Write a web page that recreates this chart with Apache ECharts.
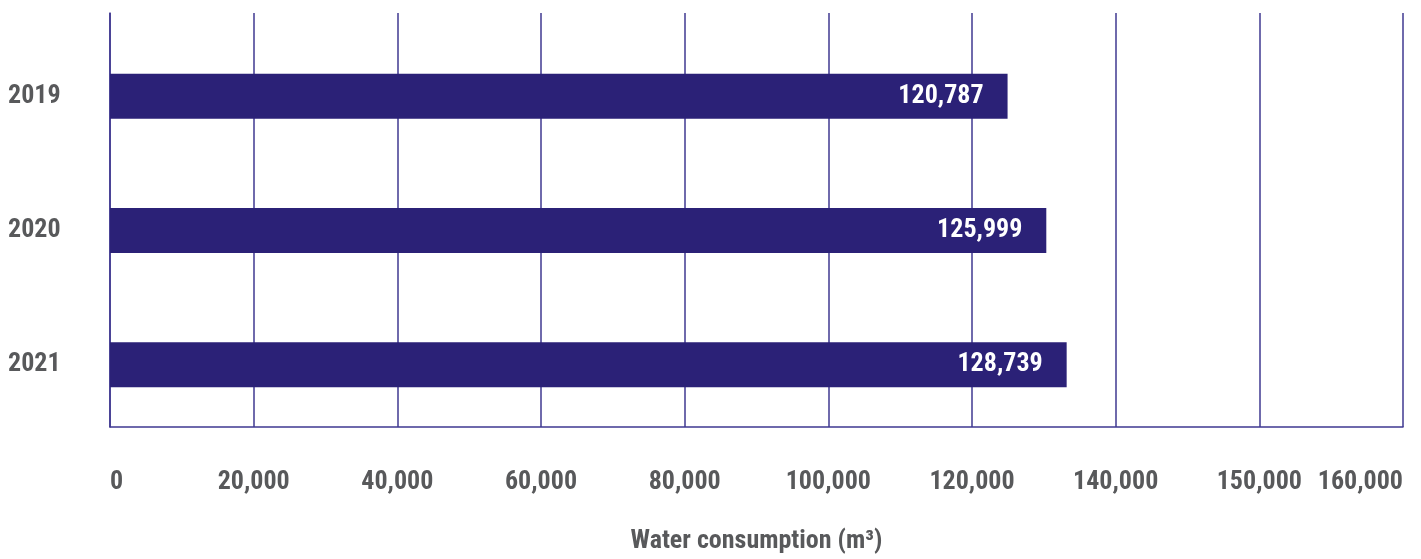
<!DOCTYPE html>
<html>
<head>
<meta charset="utf-8">
<script src="https://cdn.jsdelivr.net/npm/echarts@6/dist/echarts.min.js"></script>
<style>
html,body{margin:0;padding:0;background:#fff;}
#chart{width:1421px;height:559px;}
</style>
</head>
<body>
<div id="chart"></div>
<script>
// ---- Data ----
const years = ['2019', '2020', '2021'];
const waterConsumption = [120787, 125999, 128739];
const tickLabels = ['0', '20,000', '40,000', '60,000', '80,000', '100,000', '120,000', '140,000', '150,000', '160,000'];
const axisTitle = 'Water consumption (m\u00B3)';
const barScaleMax = 174000;

const FONT = "'Liberation Sans Narrow', 'Arial Narrow', 'Roboto Condensed', Roboto, sans-serif";
const TEXT = '#58595b';
const LINE = '#3f3891';
const BAR = '#2b2177';

const chart = echarts.init(document.getElementById('chart'));
chart.setOption({
  animation: false,
  backgroundColor: '#fff',
  grid: [
    { left: 110, right: 18, top: 13, bottom: 128 },
    { left: 110, right: 18, top: 29, bottom: 127 }
  ],
  xAxis: [
    {
      gridIndex: 0, type: 'value', min: 0, max: tickLabels.length - 1, interval: 1,
      axisLine: { show: true, lineStyle: { color: LINE, width: 1.5 } },
      axisTick: { show: false },
      splitLine: { show: true, lineStyle: { color: LINE, width: 1.5 } },
      axisLabel: {
        margin: 42, color: TEXT, fontFamily: FONT, fontWeight: 'bold', fontSize: 26,
        alignMinLabel: 'left', alignMaxLabel: 'right',
        formatter: (v) => tickLabels[Math.round(v)]
      },
      name: axisTitle, nameLocation: 'middle', nameGap: 101,
      nameTextStyle: { color: TEXT, fontFamily: FONT, fontWeight: 'bold', fontSize: 26 }
    },
    {
      gridIndex: 1, type: 'value', min: 0, max: barScaleMax, show: false
    }
  ],
  yAxis: [
    {
      gridIndex: 0, type: 'value', min: 0, max: 1,
      axisLine: { show: true, lineStyle: { color: LINE, width: 1.5 } },
      axisTick: { show: false }, axisLabel: { show: false }, splitLine: { show: false }
    },
    {
      gridIndex: 1, type: 'category', inverse: true, data: years,
      axisLine: { show: false }, axisTick: { show: false },
      axisLabel: {
        align: 'left', margin: 102, color: TEXT, fontFamily: FONT, fontWeight: 'bold', fontSize: 26
      }
    }
  ],
  series: [{
    type: 'bar', xAxisIndex: 1, yAxisIndex: 1,
    data: waterConsumption, barWidth: 45,
    itemStyle: { color: BAR },
    label: {
      show: true, position: 'insideRight', distance: 24,
      color: '#fff', fontFamily: FONT, fontWeight: 'bold', fontSize: 26,
      formatter: (p) => p.value.toLocaleString('en-US')
    }
  }]
});
</script>
</body>
</html>
